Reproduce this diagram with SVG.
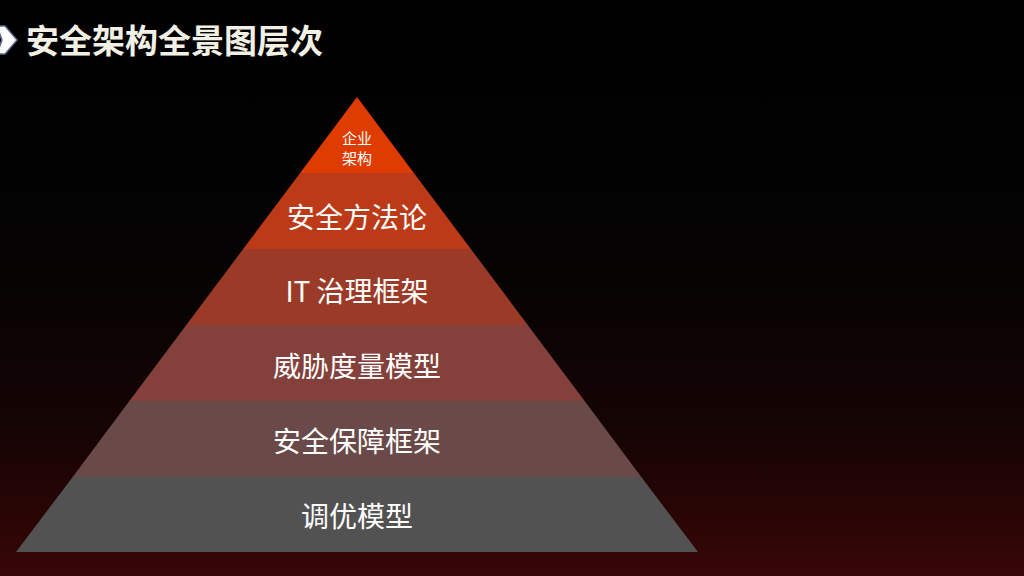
<svg xmlns="http://www.w3.org/2000/svg" width="1024" height="576" viewBox="0 0 1024 576">
<defs>
<linearGradient id="bg" x1="0" y1="0" x2="0" y2="1">
<stop offset="0" stop-color="#000000"/>
<stop offset="0.45" stop-color="#050303"/>
<stop offset="0.75" stop-color="#160404"/>
<stop offset="1" stop-color="#380606"/>
</linearGradient>
<style>
.t{font-family:"Noto Sans CJK SC","Noto Sans",sans-serif;fill:#ffffff;text-anchor:middle;dominant-baseline:central}
.l{font-size:28px}
.s{font-size:15px}
.title{font-family:"Noto Sans CJK SC","Noto Sans",sans-serif;font-weight:bold;font-size:33px;fill:#F2F0E4}
</style>
</defs>
<rect width="1024" height="576" fill="url(#bg)"/>
<g id="header">
<path d="M-3,26 L5,26 L17,40 L5,54 L-3,54 L2,40 Z" fill="#ffffff" stroke="#5C6B8C" stroke-width="1.5"/>
<text class="title" x="26" y="53">安全架构全景图层次</text>
</g>
<g id="connectors"></g>
<g id="layer1">
<polygon points="357,97 413.9,173 300.1,173" fill="#DE3C00"/>
<text class="t s" x="357" y="137.5">企业</text>
<text class="t s" x="357" y="157">架构</text>
</g>
<g id="layer2">
<polygon points="300.1,173 413.9,173 470.8,249 243.2,249" fill="#BC3A17"/>
<text class="t l" x="357" y="216">安全方法论</text>
</g>
<g id="layer3">
<polygon points="243.2,249 470.8,249 527.7,325 186.3,325" fill="#9C3A28"/>
<text class="t l" x="357" y="290">IT 治理框架</text>
</g>
<g id="layer4">
<polygon points="186.3,325 527.7,325 584.6,401 129.4,401" fill="#84403A"/>
<text class="t l" x="357" y="365">威胁度量模型</text>
</g>
<g id="layer5">
<polygon points="129.4,401 584.6,401 641.3,477 72.7,477" fill="#6A4A48"/>
<text class="t l" x="357" y="440">安全保障框架</text>
</g>
<g id="layer6">
<polygon points="72.7,477 641.3,477 698,552 16,552" fill="#525252"/>
<text class="t l" x="357" y="515">调优模型</text>
</g>
</svg>
